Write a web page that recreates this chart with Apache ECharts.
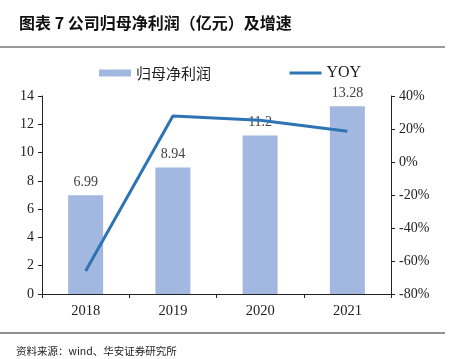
<!DOCTYPE html>
<html><head><meta charset="utf-8">
<script src="https://cdn.jsdelivr.net/npm/echarts@6/dist/echarts.min.js"></script>
<style>html,body{margin:0;padding:0;background:#fff}#c{width:453px;height:359px}</style>
</head><body><div id="c"></div>
<script>
const categories = ['2018','2019','2020','2021'];
const profit = [6.99, 8.94, 11.2, 13.28];
const yoy = [-66, 27.9, 25.3, 18.6];
const leftTicks = [0, 14, 2];
const rightTicks = [-80, 40, 20];

const serif = '"Liberation Serif","Times New Roman",serif';
const cjk = '"Noto Sans CJK SC",sans-serif';
const chart = echarts.init(document.getElementById('c'));
chart.setOption({
  animation: false,
  backgroundColor: '#fff',
  title: {
    text: '图表 7 公司归母净利润（亿元）及增速',
    left: 14, top: 10,
    textStyle: { fontFamily: cjk, fontSize: 16, fontWeight: 'bold', color: '#111' }
  },
  graphic: [
    { type: 'line', shape: { x1: 0, y1: 47, x2: 445, y2: 47 }, style: { stroke: '#777', lineWidth: 1.5 } },
    { type: 'line', shape: { x1: 0, y1: 333, x2: 445, y2: 333 }, style: { stroke: '#222', lineWidth: 1 } },
    { type: 'text', left: 16, top: 346, style: { text: '资料来源：wind、华安证券研究所', font: '10.5px "Noto Sans CJK SC",sans-serif', fill: '#222' } }
  ],
  legend: {
    top: 60, left: 94, itemGap: 77,
    itemWidth: 32, itemHeight: 7,
    textStyle: { fontSize: 16, color: '#222', fontFamily: serif },
    data: [
      { name: '归母净利润', icon: 'rect', textStyle: { fontFamily: cjk, fontSize: 15 } },
      { name: 'YOY', itemStyle: { opacity: 0 }, lineStyle: { width: 3, color: '#2e74b5' } }
    ]
  },
  grid: { left: 42, right: 62, top: 96, bottom: 65 },
  xAxis: {
    type: 'category', data: categories,
    axisLine: { lineStyle: { color: '#222' } },
    axisTick: { show: true, length: 4, lineStyle: { color: '#222' } },
    axisLabel: { fontFamily: serif, fontSize: 14.5, color: '#222', margin: 10 }
  },
  yAxis: [
    {
      type: 'value', min: leftTicks[0], max: leftTicks[1], interval: leftTicks[2],
      axisLine: { show: true, lineStyle: { color: '#222' } },
      axisTick: { show: true, length: 4, lineStyle: { color: '#222' } },
      splitLine: { show: false },
      axisLabel: { fontFamily: serif, fontSize: 14, color: '#222', margin: 8 }
    },
    {
      type: 'value', min: rightTicks[0], max: rightTicks[1], interval: rightTicks[2],
      axisLine: { show: true, lineStyle: { color: '#222' } },
      axisTick: { show: true, length: 4, lineStyle: { color: '#222' } },
      splitLine: { show: false },
      axisLabel: { fontFamily: serif, fontSize: 14, color: '#222', margin: 8, formatter: '{value}%' }
    }
  ],
  series: [
    {
      name: '归母净利润', type: 'bar', data: profit, barWidth: 35,
      itemStyle: { color: '#a3b8e1' },
      label: { show: true, position: 'top', distance: 6, fontFamily: serif, fontSize: 14, color: '#404040' }
    },
    {
      name: 'YOY', type: 'line', yAxisIndex: 1, data: yoy,
      symbol: 'none', lineStyle: { color: '#2e74b5', width: 3 },
      itemStyle: { color: '#2e74b5' }
    }
  ]
});
</script></body></html>
